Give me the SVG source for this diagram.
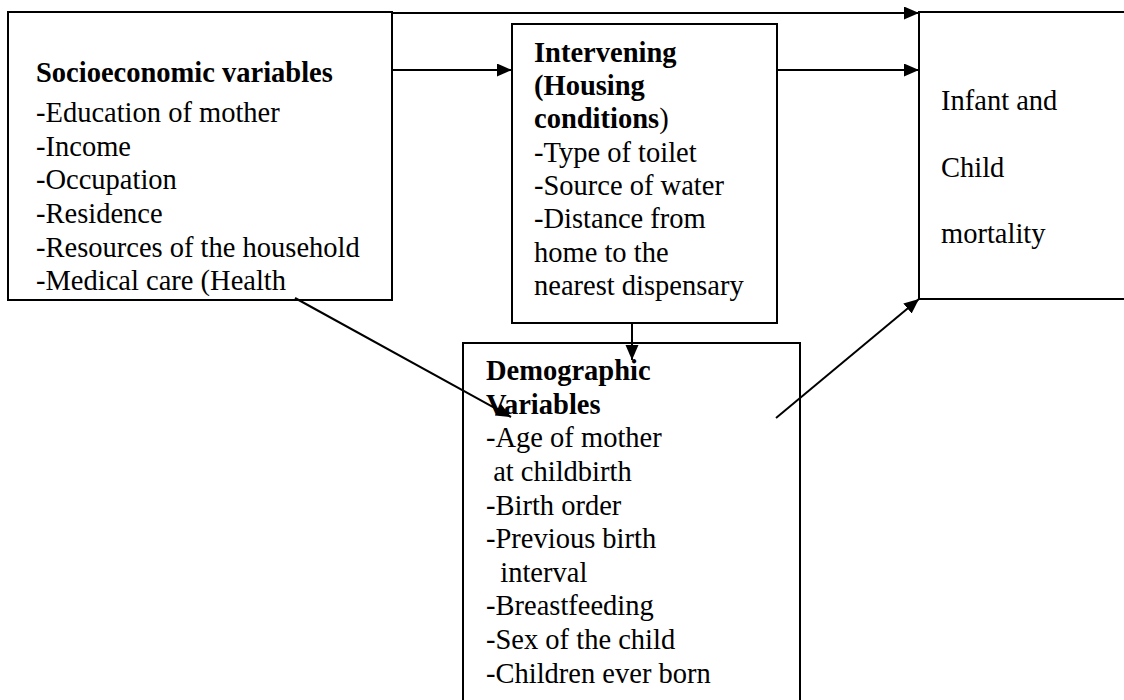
<svg xmlns="http://www.w3.org/2000/svg" width="1124" height="700" viewBox="0 0 1124 700">
<defs>
<style>
.box{fill:#fff;stroke:#000;stroke-width:2}
.t{font-family:"Liberation Serif","Times New Roman",serif;font-size:28.5px;fill:#000}
.b{font-weight:bold}
.c{fill:none;stroke:#000;stroke-width:2}
</style>
<marker id="ah" markerUnits="userSpaceOnUse" markerWidth="16" markerHeight="14" refX="15" refY="6.5" orient="auto">
<path d="M0,0 L15,6.5 L0,13 Z" fill="#000"/>
</marker>
</defs>
<rect width="1124" height="700" fill="#fff"/>
<g id="socioeconomic">
<rect class="box" x="8" y="12" width="384" height="288"/>
<text class="t b" x="36" y="82">Socioeconomic variables</text>
<text class="t" x="36" y="122">-Education of mother</text>
<text class="t" x="36" y="156">-Income</text>
<text class="t" x="36" y="189">-Occupation</text>
<text class="t" x="36" y="223">-Residence</text>
<text class="t" x="36" y="257">-Resources of the household</text>
<text class="t" x="36" y="290">-Medical care (Health</text>
</g>
<g id="intervening">
<rect class="box" x="512" y="24" width="265" height="299"/>
<text class="t b" x="534" y="62">Intervening</text>
<text class="t b" x="534" y="95">(Housing</text>
<text class="t b" x="534" y="128">conditions<tspan font-weight="normal">)</tspan></text>
<text class="t" x="534" y="162">-Type of toilet</text>
<text class="t" x="534" y="195">-Source of water</text>
<text class="t" x="534" y="228">-Distance from</text>
<text class="t" x="534" y="262">home to the</text>
<text class="t" x="534" y="295">nearest dispensary</text>
</g>
<g id="mortality">
<rect class="box" x="919" y="12" width="215" height="287"/>
<text class="t" x="941" y="110">Infant and</text>
<text class="t" x="941" y="177">Child</text>
<text class="t" x="941" y="243">mortality</text>
</g>
<g id="demographic">
<rect class="box" x="463" y="343" width="337" height="370"/>
<text class="t b" x="486" y="380">Demographic</text>
<text class="t b" x="486" y="414">Variables</text>
<text class="t" x="486" y="447">-Age of mother</text>
<text class="t" x="486" y="481" xml:space="preserve"> at childbirth</text>
<text class="t" x="486" y="515">-Birth order</text>
<text class="t" x="486" y="548">-Previous birth</text>
<text class="t" x="486" y="582" xml:space="preserve">  interval</text>
<text class="t" x="486" y="615">-Breastfeeding</text>
<text class="t" x="486" y="649">-Sex of the child</text>
<text class="t" x="486" y="683">-Children ever born</text>
</g>
<g id="connectors">
<line class="c" x1="392" y1="13" x2="919" y2="13" marker-end="url(#ah)"/>
<line class="c" x1="392" y1="70" x2="512" y2="70" marker-end="url(#ah)"/>
<line class="c" x1="777" y1="70" x2="919" y2="70" marker-end="url(#ah)"/>
<line class="c" x1="632" y1="323" x2="632" y2="360" marker-end="url(#ah)"/>
<line class="c" x1="295" y1="298" x2="511" y2="417" marker-end="url(#ah)"/>
<line class="c" x1="776" y1="418" x2="919" y2="299" marker-end="url(#ah)"/>
</g>
</svg>
